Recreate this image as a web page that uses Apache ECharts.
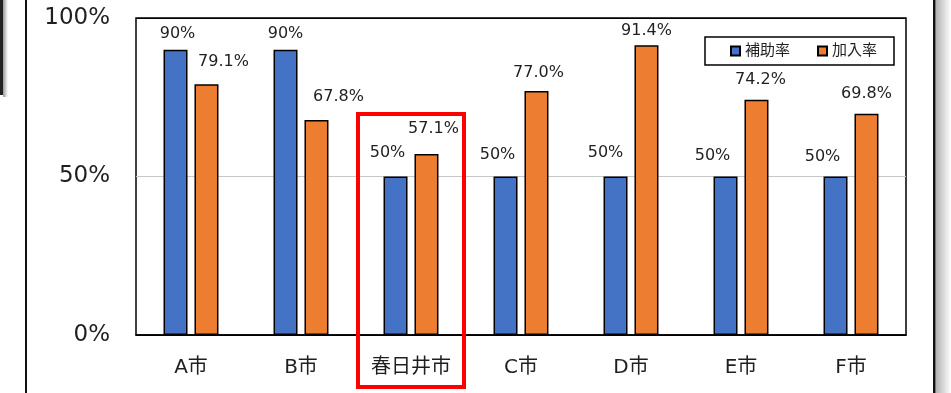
<!DOCTYPE html>
<html><head><meta charset="utf-8">
<script src="https://cdn.jsdelivr.net/npm/echarts@6/dist/echarts.min.js"></script>
<style>html,body{margin:0;padding:0;background:#fff}#c{width:951px;height:393px}</style>
</head><body><div id="c"></div>
<script>
var categories = ['A市','B市','春日井市','C市','D市','E市','F市'];
var subsidyRate = [90, 90, 50, 50, 50, 50, 50];
var enrollRate = [79.1, 67.8, 57.1, 77.0, 91.4, 74.2, 69.8];
var seriesNames = ['補助率', '加入率'];
var yTicks = [0, 50, 100];

var FONT = "'DejaVu Sans','Noto Sans CJK JP',sans-serif";
var TXT = '#1f1f1f';

// label nudges reproducing manually-placed labels in the source
var blueNudge = [[2,-8],[0,-8],[-8,-16],[-8,-14],[-10,-16],[-13,-13],[-13,-12]];
var orangeNudge = [[17,-14],[22,-15],[7,-17],[2,-10],[0,-6],[4,-12],[0,-12]];

function mk(vals, nudges) {
  return vals.map(function (v, i) {
    return { value: v, label: { offset: nudges[i] } };
  });
}

var chart = echarts.init(document.getElementById('c'), null, { renderer: 'canvas' });
var labelBase = {
  show: true, position: 'top', distance: 0, color: TXT,
  fontFamily: FONT, fontSize: 16, lineHeight: 16
};
chart.setOption({
  animation: false,
  backgroundColor: '#fff',
  grid: { left: 136, right: 45, top: 18, bottom: 58, show: true,
          borderColor: '#000', borderWidth: 1.5, backgroundColor: '#fff' },
  legend: {
    data: seriesNames, left: 705, top: 37,
    padding: [6, 17, 6, 25], itemGap: 27, itemWidth: 9, itemHeight: 9,
    icon: 'rect', borderColor: '#000', borderWidth: 1.5, backgroundColor: '#fff',
    textStyle: { fontFamily: FONT, fontSize: 15, color: TXT, lineHeight: 16 }
  },
  xAxis: {
    type: 'category', data: categories,
    axisLine: { lineStyle: { color: '#000', width: 1.5 } },
    axisTick: { show: false },
    axisLabel: { fontFamily: FONT, fontSize: 20, color: TXT, margin: 23 }
  },
  yAxis: {
    type: 'value', min: yTicks[0], max: yTicks[yTicks.length - 1], interval: yTicks[1] - yTicks[0],
    axisLine: { show: false }, axisTick: { show: false },
    axisLabel: { fontFamily: FONT, fontSize: 23, color: TXT, margin: 26,
                 formatter: function (v) { return v + '%'; } },
    splitLine: { lineStyle: { color: ['#000', '#c8c8c8', '#000'], width: 1.2 } }
  },
  series: [
    { name: seriesNames[0], type: 'bar', barWidth: 24, barGap: '29%',
      data: mk(subsidyRate, blueNudge),
      itemStyle: { color: '#4472C4', borderColor: '#000', borderWidth: 1.5 },
      label: Object.assign({}, labelBase, { formatter: function (p) { return p.value + '%'; } }) },
    { name: seriesNames[1], type: 'bar', barWidth: 24,
      data: mk(enrollRate, orangeNudge),
      itemStyle: { color: '#ED7D31', borderColor: '#000', borderWidth: 1.5 },
      label: Object.assign({}, labelBase, { formatter: function (p) { return p.value.toFixed(1) + '%'; } }) }
  ],
  graphic: [
    { type: 'rect', shape: { x: 358, y: 114, width: 106, height: 273 },
      style: { fill: 'none', stroke: '#ff0000', lineWidth: 4 }, z: 100 },
    { type: 'rect', shape: { x: 25, y: 0, width: 2, height: 393 }, style: { fill: '#111' }, z: 100 },
    { type: 'rect', shape: { x: 933, y: 0, width: 2.5, height: 393 }, style: { fill: '#111' }, z: 100 },
    { type: 'rect', shape: { x: 935.5, y: 0, width: 15.5, height: 393 },
      style: { fill: { type: 'linear', x: 0, y: 0, x2: 1, y2: 0,
        colorStops: [{ offset: 0, color: '#b0b0b0' }, { offset: 1, color: '#ffffff' }] } }, z: 99 },
    { type: 'rect', shape: { x: 0, y: 0, width: 3, height: 95 }, style: { fill: '#222' }, z: 100 },
    { type: 'rect', shape: { x: 3, y: 0, width: 5, height: 97 },
      style: { fill: { type: 'linear', x: 0, y: 0, x2: 1, y2: 0,
        colorStops: [{ offset: 0, color: '#999' }, { offset: 1, color: '#fff' }] } }, z: 99 }
  ]
});
</script></body></html>
